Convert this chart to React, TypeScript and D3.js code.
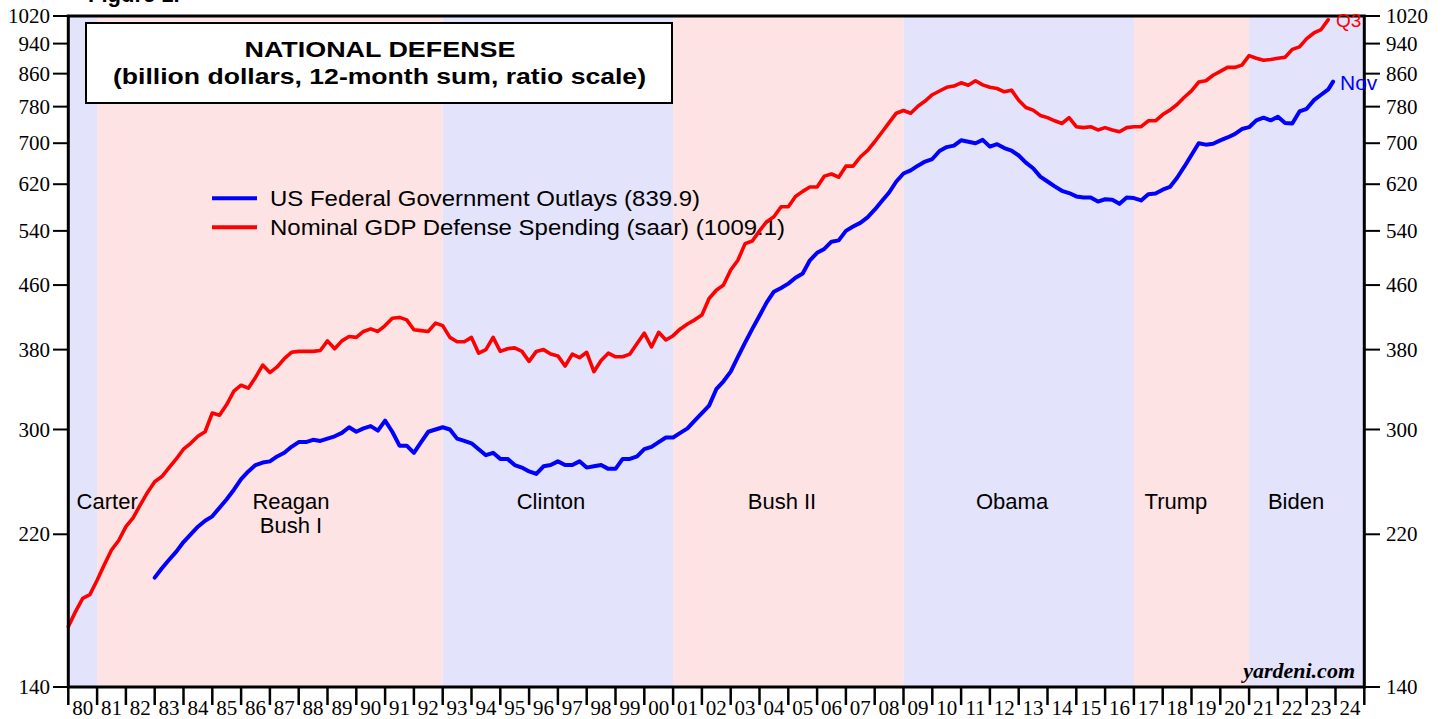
import * as React from "react";
import * as d3 from "d3";

// quarterly, saar, 1979Q4 .. 2023Q3 (plotted at quarter end)
const gdpDefense = [
  167.4, 175, 182, 184, 192, 201, 210, 216, 225, 231, 240, 249,
  257, 261, 268, 275, 283, 288, 294, 298, 315, 313, 323, 336,
  342, 339, 350, 363, 355, 361, 370, 377, 378, 378, 378, 379,
  390, 381, 390, 395, 394, 401, 404, 401, 408, 417, 418, 415,
  403, 402, 401, 411, 408, 394, 389, 389, 394, 376, 380, 394,
  378, 381, 382, 378, 367, 378, 380, 375, 373, 362, 375, 371,
  377, 356, 368, 376, 372, 372, 375, 387, 399, 383, 400, 391,
  396, 404, 410, 415, 421, 442, 453, 460, 481, 495, 520, 524,
  540, 555, 563, 580, 580, 598, 607, 615, 615, 635, 639, 633,
  654, 654, 672, 685, 703, 723, 744, 765, 771, 765, 781, 793,
  808, 817, 826, 829, 837, 831, 842, 832, 826, 823, 815, 819,
  795, 778, 772, 760, 755, 748, 742, 755, 735, 733, 735, 728,
  733, 728, 724, 733, 735, 735, 748, 748, 762, 772, 785, 802,
  817, 839, 842, 856, 866, 876, 876, 882, 907, 900, 895, 897,
  900, 903, 924, 931, 954, 970, 980, 1009.1,
];
const gdpStart = 1980;

// 12-month sum, sampled quarterly from Jan 1983, plus latest (Nov 2023)
const outlays = [
  193.5, 199, 204, 209, 215, 220, 225, 229, 232, 238, 244, 251,
  259, 265, 270, 272, 273, 277, 280, 285, 289, 289, 291, 290,
  292, 294, 297, 302, 298, 301, 303, 299, 308, 298, 286, 286,
  280, 289, 298, 300, 302, 300, 292, 290, 288, 283, 278, 280,
  275, 275, 270, 268, 265, 263, 269, 270, 273, 270, 270, 273,
  268, 269, 270, 267, 267, 275, 275, 277, 283, 285, 289, 293,
  293, 297, 301, 308, 315, 322, 338, 346, 356, 372, 388, 404,
  420, 437, 451, 456, 462, 470, 476, 495, 506, 512, 523, 525,
  540, 547, 553, 562, 575, 590, 605, 625, 640, 646, 655, 663,
  668, 684, 692, 695, 706, 703, 700, 707, 693, 698, 690, 685,
  675, 661, 650, 634, 625, 616, 608, 604, 598, 596, 596, 589,
  593, 592, 585, 596, 595, 591, 602, 603, 610, 615, 632, 653,
  676, 700, 697, 699, 706, 712, 719, 730, 734, 749, 755, 749,
  757, 743, 742, 769, 775, 795, 808, 821,
];
const outlaysStart = 1983;
const outlaysLatest = 839.9;

const yTicks = [140, 220, 300, 380, 460, 540, 620, 700, 780, 860, 940, 1020];
const years = d3.range(1980, 2025);

const terms = [
  { name: ["Carter"], start: 1980, end: 1981, party: "D" },
  { name: ["Reagan", "Bush I"], start: 1981, end: 1993, party: "R" },
  { name: ["Clinton"], start: 1993, end: 2001, party: "D" },
  { name: ["Bush II"], start: 2001, end: 2009, party: "R" },
  { name: ["Obama"], start: 2009, end: 2017, party: "D" },
  { name: ["Trump"], start: 2017, end: 2021, party: "R" },
  { name: ["Biden"], start: 2021, end: 2025, party: "D" },
];
const termLabelYears = [1981.35, 1987.73, 1996.76, 2004.78, 2012.77, 2018.46, 2022.63];

const SANS = "'Liberation Sans', Arial, Helvetica, sans-serif";
const SERIF = "'Liberation Serif', 'Times New Roman', serif";

export default function App() {
  const W = 1446, H = 719;
  const left = 68.3, right = 1364.3, top = 16, bottom = 687;

  const x = d3.scaleLinear().domain([1980, 2025]).range([left, right]);
  const y = d3.scaleLog().domain([140, 1020]).range([bottom, top]);

  const redPts: [number, number][] = gdpDefense.map((v, i) => [gdpStart + i / 4, v]);
  const bluePts: [number, number][] = outlays.map((v, i) => [outlaysStart + i / 4, v]);
  bluePts.push([2023 + 11 / 12, outlaysLatest]);

  const line = d3.line<[number, number]>()
    .x(d => x(d[0]))
    .y(d => y(d[1]));

  const shade = (p: string) => (p === "D" ? "#e3e3fb" : "#fde3e3");

  return (
    <div style={{ position: "absolute", left: 0, top: 0 }}>
      <svg width={W} height={H} style={{ display: "block", background: "#fff" }}>
        <text x={88} y={2} fontFamily={SANS} fontWeight="bold" fontSize={22}>Figure 1.</text>

        {terms.map((t, i) => (
          <rect key={i} x={x(t.start)} y={top} width={x(t.end) - x(t.start)} height={bottom - top}
            fill={shade(t.party)} />
        ))}

        {terms.map((t, i) => (
          <text key={"l" + i} x={x(termLabelYears[i])} y={508.5} textAnchor="middle"
            fontFamily={SANS} fontSize={22} fill="#000">
            {t.name.map((n, j) => (
              <tspan key={j} x={x(termLabelYears[i])} dy={j === 0 ? 0 : 24}>{n}</tspan>
            ))}
          </text>
        ))}

        {/* title box */}
        <rect x={86} y={23} width={586} height={80} fill="#fff" stroke="#000" strokeWidth={2} />
        <text x={380} y={57.3} textAnchor="middle" fontFamily={SANS} fontWeight="bold" fontSize={22}
          textLength={271} lengthAdjust="spacingAndGlyphs">NATIONAL DEFENSE</text>
        <text x={379.5} y={83.5} textAnchor="middle" fontFamily={SANS} fontWeight="bold" fontSize={22}
          textLength={533} lengthAdjust="spacingAndGlyphs">(billion dollars, 12-month sum, ratio scale)</text>

        {/* legend */}
        <line x1={212} x2={257} y1={198.3} y2={198.3} stroke="#0000ff" strokeWidth={4} />
        <text x={270} y={206} fontFamily={SANS} fontSize={22} textLength={430}
          lengthAdjust="spacingAndGlyphs">US Federal Government Outlays (839.9)</text>
        <line x1={212} x2={257} y1={227.3} y2={227.3} stroke="#ff0000" strokeWidth={4} />
        <text x={270} y={234.5} fontFamily={SANS} fontSize={22} textLength={515}
          lengthAdjust="spacingAndGlyphs">Nominal GDP Defense Spending (saar) (1009.1)</text>

        {/* series */}
        <path d={line(redPts) || ""} fill="none" stroke="#ff0000" strokeWidth={3.6}
          strokeLinejoin="round" strokeLinecap="round" />
        <path d={line(bluePts) || ""} fill="none" stroke="#0000ff" strokeWidth={4}
          strokeLinejoin="round" strokeLinecap="round" />

        <text x={1355} y={678} textAnchor="end" fontFamily={SERIF} fontWeight="bold" fontStyle="italic"
          fontSize={22}>yardeni.com</text>

        {/* frame */}
        <rect x={left} y={top} width={right - left} height={bottom - top} fill="none" stroke="#000" strokeWidth={3} />

        {/* y axes */}
        {yTicks.map(v => (
          <g key={v}>
            <line x1={53} x2={left} y1={y(v)} y2={y(v)} stroke="#000" strokeWidth={2} />
            <text x={50} y={y(v)} dy="0.34em" textAnchor="end" fontFamily={SERIF} fontSize={21}>{v}</text>
            <line x1={right} x2={1380} y1={y(v)} y2={y(v)} stroke="#000" strokeWidth={2} />
            <text x={1386} y={y(v)} dy="0.34em" textAnchor="start" fontFamily={SERIF} fontSize={21}>{v}</text>
          </g>
        ))}

        {/* x axis */}
        {years.concat([2025]).map(yr => (
          <line key={"t" + yr} x1={x(yr)} x2={x(yr)} y1={bottom} y2={705} stroke="#000" strokeWidth={2.5} />
        ))}
        {years.map(yr => (
          <text key={"x" + yr} x={x(yr + 0.5)} y={715} textAnchor="middle" fontFamily={SERIF} fontSize={21}>
            {String(yr % 100).padStart(2, "0")}
          </text>
        ))}

        <text x={1336} y={26.7} fontFamily={SANS} fontSize={19} fill="#ff0000">Q3</text>
        <text x={1340} y={90} fontFamily={SANS} fontSize={21} fill="#0000ff">Nov</text>
      </svg>
    </div>
  );
}
